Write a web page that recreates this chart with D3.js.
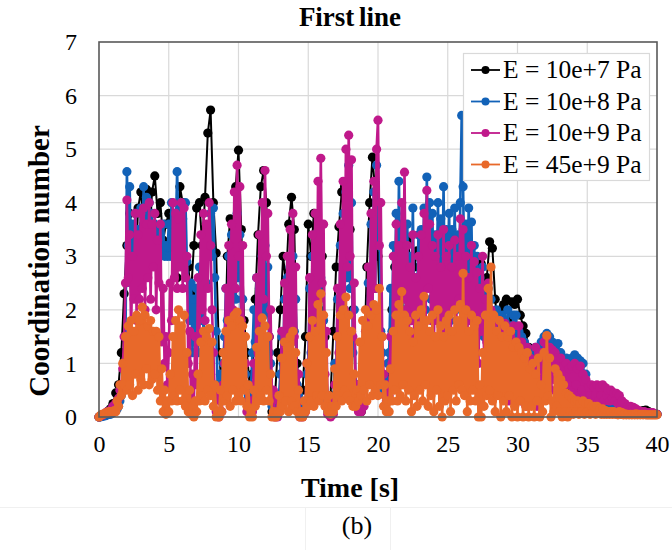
<!DOCTYPE html>
<html><head><meta charset="utf-8">
<script src="https://cdn.jsdelivr.net/npm/d3@7"></script>
<style>body{margin:0;background:#fff}svg{display:block}</style>
</head><body><svg id="c" width="672" height="550"></svg>
<script>
const xTicks = [0,5,10,15,20,25,30,35,40];
const yTicks = [0,1,2,3,4,5,6,7];
const seriesNames = ["E = 10e+7 Pa","E = 10e+8 Pa","E = 10e+9 Pa","E = 45e+9 Pa"];
const seriesColors = ["#000000","#1262b8","#c0198b","#e8692a"];
const seriesSteps = [0.2, 0.1, 0.1, 0.1]; // sampling interval in seconds

// E = 10e+7 Pa, every 0.2 s
const e7 = [
0,0.02,0.05,0.1,0.15, 0.25,0.45,0.6,1.2,2.3, 3.2,3.8,3.4,2.6,3.9, 4.2,3.6,4.25,3.2,4.2,
4.5,3.8,4.0,3.3,3.6, 3.8,3.1,3.5,2.6,4.3, 4.0,3.0,2.8,2.3,3.2, 3.9,4.0,3.2,4.1,5.3,
5.73,4.0,3.06,1.2,0.6, 0.9,3.0,3.7,2.4,4.3, 4.98,3.5,1.8,1.2,0.6, 0.8,2.2,3.4,4.3,4.6,
4.0,1.5,0.1,0.3,1.2, 2.0,3.0,2.5,3.6,4.1, 3.5,1.0,0.3,0.5,1.5, 3.6,3.0,3.8,3.0,2.0,
3.0,1.5,0.3,0.4,1.6, 2.8,3.55,4.2,4.3,4.3, 3.5,2.0,0.6,0.2,0.1, 1.0,2.8,4.0,4.85,4.2,
3.0,1.5,0.44,0.26,1.0, 2.0,2.8,3.2,2.5,3.0, 2.6,3.3,2.0,2.8,3.1, 2.4,3.2,3.5,2.7,3.0,
2.2,2.9,3.3,2.5,3.1, 2.7,2.0,3.0,2.4,2.8, 3.2,2.5,2.0,2.6,2.3, 2.1,2.4,2.86,2.3,2.6,
3.27,3.15,2.2,1.6,2.0, 2.1,2.2,1.8,2.15,2.1, 2.2,1.9,1.7,1.56,1.3, 1.1,1.0,0.9,1.2,1.0,
1.3,1.1,0.9,1.0,0.8, 0.7,0.6,0.7,0.5,0.5, 0.4,0.5,0.35,0.3,0.3, 0.3,0.25,0.2,0.2,0.15,
0.15,0.12,0.1,0.1,0.1, 0.08,0.08,0.05,0.05,0.05, 0.05,0.05,0.05,0.05,0.08, 0.12,0.13,0.1,0.08,0.05,
0.05];

// E = 10e+8 Pa, every 0.1 s
const e8 = [
0,0,0.01,0.02,0.02,0.03,0.04,0.05,0.05,0.06,
0.08,0.1,0.12,0.15,0.2,0.3,0.4,0.6,0.9,1.5,
4.58,3.2,4.3,2.5,3.6,2.8,3.8,3.0,3.5,2.6,
3.9,2.8,4.3,3.0,4.1,3.2,4.0,3.4,3.8,3.0,
3.6,3.1,3.5,3.0,3.4,3.1,3.6,3.0,3.2,3.0,
3.6,3.0,4.0,3.2,3.8,3.4,4.58,3.5,4.0,3.3,
3.7,3.0,4.0,2.9,2.4,1.8,2.5,1.2,2.2,1.4,
2.4,1.2,2.8,1.8,2.5,1.5,3.0,2.5,3.5,3.0,
3.8,3.0,3.9,2.6,1.6,0.6,0.5,0.8,0.6,1.0,
1.5,2.4,1.8,3.0,2.0,3.4,1.6,3.6,2.2,3.8,
2.6,3.4,1.5,2.2,0.6,0.8,0.3,0.4,0.3,0.6,
1.2,2.0,1.4,2.6,1.8,2.4,1.2,3.0,1.9,3.2,
2.0,2.8,1.2,1.0,0.2,0.3,0.1,0.15,0.1,0.4,
0.8,1.5,1.0,2.2,1.2,2.6,0.9,2.8,1.4,3.0,
1.6,2.2,0.6,0.4,0.1,0.2,0.1,0.15,0.2,0.8,
0.8,2.4,1.2,3.0,1.5,3.4,1.0,3.2,1.6,2.6,
1.2,1.8,0.3,0.4,0.1,0.15,0.1,0.2,0.3,1.0,
0.6,2.2,1.0,3.2,1.5,3.8,2.0,4.2,2.6,4.7,
2.4,4.0,1.2,2.0,0.4,0.6,0.2,0.3,0.2,0.5,
0.6,1.4,1.0,2.5,1.4,3.6,2.0,4.2,2.4,4.7,
3.2,4.0,1.6,1.2,0.5,0.7,0.5,1.0,1.2,2.4,
1.6,3.2,2.0,3.8,1.8,4.4,2.6,3.6,2.0,3.4,
2.2,3.6,1.8,3.0,2.4,3.9,1.8,2.6,2.2,3.4,
1.9,3.5,2.4,3.9,2.0,4.48,2.8,4.0,2.2,3.8,
2.0,3.4,2.6,4.0,1.8,3.7,2.4,4.3,2.0,3.5,
2.4,3.8,1.8,3.5,2.6,3.9,2.0,3.4,2.4,4.0,
5.63,4.3,2.4,3.6,2.0,3.9,2.6,3.64,1.8,3.2,
2.2,3.0,1.6,2.6,2.0,2.8,1.5,2.4,1.8,2.4,
1.5,2.2,1.2,1.9,1.4,2.0,1.0,1.8,1.2,1.9,
1.0,1.8,1.2,2.0,0.9,1.7,1.1,1.9,1.0,1.9,
1.2,1.6,0.8,1.5,1.0,1.4,0.7,1.3,0.9,1.2,
0.6,1.2,0.9,1.3,0.7,1.1,0.8,1.4,0.9,1.5,
1.1,1.56,1.2,1.5,1.0,1.4,1.1,1.3,1.0,1.37,
0.9,1.2,0.8,1.0,0.9,1.1,0.8,1.05,0.9,1.1,
0.8,1.16,0.9,1.1,0.8,1.05,0.7,1.0,0.6,0.8,
0.5,0.6,0.4,0.5,0.4,0.5,0.35,0.45,0.3,0.4,
0.3,0.4,0.3,0.35,0.25,0.3,0.25,0.3,0.2,0.25,
0.2,0.25,0.15,0.2,0.15,0.18,0.12,0.15,0.1,0.15,
0.1,0.12,0.08,0.1,0.08,0.1,0.06,0.08,0.06,0.08,
0.05,0.06,0.05,0.05,0.05,0.05,0.05,0.05,0.05,0.05,
0.05];

// E = 10e+9 Pa, every 0.1 s
const e9 = [
0,0.02,0.03,0.05,0.06,0.08,0.1,0.1,0.12,0.15,
0.2,0.22,0.25,0.3,0.35,0.5,0.6,0.9,1.5,2.5,
4.05,2.6,3.4,1.6,3.0,2.2,3.8,1.8,3.4,2.2,
3.8,2.4,3.9,2.0,3.6,2.6,4.0,2.2,3.6,2.8,
3.8,2.0,3.3,2.5,3.6,1.4,2.4,1.0,1.5,0.6,
1.2,2.5,1.8,4.0,2.6,3.8,2.4,3.7,2.8,4.0,
2.4,3.9,2.6,3.0,1.0,1.6,0.3,0.8,0.25,1.5,
0.6,2.6,1.5,3.4,2.0,3.8,1.8,3.6,2.4,4.0,
3.2,2.0,1.2,0.4,0.1,0.05,0.0,0.3,0.1,0.6,
1.0,2.4,0.8,3.2,1.5,3.6,2.0,4.2,2.4,4.7,
3.0,4.3,1.8,3.2,0.6,1.0,0.1,0.2,0.05,0.3,
0.1,1.0,0.5,2.6,1.2,3.4,1.8,4.0,2.2,4.6,
3.0,3.8,1.5,2.0,0.3,0.5,0.0,0.1,0.0,0.3,
0.2,1.6,0.4,2.5,0.8,3.0,1.2,3.5,1.4,3.8,
1.5,2.8,0.3,0.8,0.0,0.1,0.0,0.05,0.1,1.0,
0.3,2.6,0.8,3.4,1.4,3.8,1.6,4.4,2.2,4.83,
2.5,3.6,0.8,1.6,0.05,0.3,0.0,0.1,0.05,0.6,
0.3,2.4,1.2,3.6,1.6,4.4,2.0,5.0,2.8,5.26,
3.0,4.8,1.5,2.5,0.3,0.6,0.1,0.2,0.1,0.3,
0.2,1.6,0.8,2.8,1.4,3.8,1.8,4.4,2.4,5.0,
5.54,3.2,4.0,1.5,0.8,0.4,0.3,0.6,0.4,1.5,
1.0,3.0,1.6,3.6,2.0,3.2,1.4,4.0,2.2,4.57,
2.0,3.2,1.2,2.8,1.8,3.4,1.5,2.6,1.0,3.0,
1.6,3.4,2.0,3.8,1.4,4.23,2.4,3.6,1.8,3.2,
1.2,3.0,1.8,3.4,1.0,2.8,1.6,3.5,1.4,3.0,
1.8,3.2,1.2,2.8,2.0,3.3,1.5,3.0,2.2,3.7,
1.6,3.5,2.0,3.0,1.4,2.6,1.8,3.2,1.2,2.9,
1.5,2.7,1.0,2.4,1.6,3.0,1.2,2.2,1.4,2.5,
0.8,2.0,1.0,1.75,0.5,1.6,0.9,1.8,0.6,1.7,
0.4,1.75,0.8,1.6,0.3,1.5,0.7,1.7,0.5,1.4,
0.6,1.7,0.3,1.4,0.5,1.2,0.2,1.3,0.6,1.1,
0.3,1.0,0.5,1.3,0.2,0.9,0.4,1.2,0.6,1.4,
0.8,1.5,0.6,1.3,0.5,1.25,0.7,1.2,0.5,1.1,
0.6,1.1,0.5,0.95,0.4,1.0,0.6,0.9,0.4,0.95,
0.5,1.0,0.6,0.9,0.4,0.95,0.5,0.8,0.4,0.7,
0.3,0.56,0.4,0.6,0.3,0.55,0.4,0.6,0.3,0.55,
0.4,0.6,0.3,0.55,0.4,0.5,0.3,0.5,0.35,0.45,
0.3,0.44,0.25,0.4,0.2,0.3,0.15,0.25,0.15,0.2,
0.1,0.2,0.1,0.18,0.1,0.15,0.08,0.12,0.08,0.1,
0.06,0.1,0.06,0.08,0.06,0.08,0.05,0.08,0.05,0.06,
0.05];

// E = 45e+9 Pa, every 0.1 s
const e45 = [
0,0.03,0.05,0.05,0.06,0.08,0.08,0.1,0.1,0.1,
0.1,0.12,0.1,0.3,0.2,0.6,0.4,1.0,0.6,1.5,
0.5,1.7,0.6,1.8,0.4,1.6,0.8,1.9,0.5,1.8,
0.7,2.05,0.6,1.9,0.9,1.7,0.6,1.8,0.7,1.6,
0.8,1.6,0.5,1.5,0.3,0.9,0.1,0.5,0.05,0.3,
0.1,0.8,0.3,1.5,0.4,1.8,0.3,2.0,0.5,1.7,
0.3,1.9,0.2,1.2,0.1,0.5,0.05,0.2,0.0,0.3,
0.1,0.8,0.3,1.4,0.4,1.6,0.3,1.5,0.5,1.65,
0.4,1.4,0.2,0.6,0.0,0.1,0.0,0.5,0.1,1.2,
0.3,1.6,0.4,1.8,0.2,1.7,0.5,1.9,0.3,1.96,
0.4,1.8,0.3,1.7,0.5,1.5,0.2,0.6,0.0,0.1,
0.0,0.5,0.2,1.3,0.3,1.6,0.4,1.85,0.3,1.7,
0.5,1.5,0.3,0.8,0.0,0.1,0.0,0.0,0.1,0.4,
0.1,1.1,0.2,1.4,0.3,1.3,0.1,1.5,0.3,1.6,
0.2,1.2,0.1,0.5,0.0,0.1,0.0,0.3,0.1,1.0,
0.2,1.5,0.3,1.8,0.2,1.6,0.4,2.1,0.3,2.3,
0.4,1.9,0.2,1.2,0.1,0.4,0.05,0.2,0.1,0.9,
0.2,1.5,0.4,1.9,0.3,2.0,0.5,2.24,0.4,1.9,
0.3,1.6,0.2,0.8,0.2,0.5,0.3,1.4,0.4,1.8,
0.5,2.0,0.3,1.7,0.6,1.9,0.4,2.1,0.5,2.0,
0.4,2.4,0.6,1.5,0.2,0.6,0.1,0.3,0.1,0.9,
0.3,1.6,0.5,1.9,0.3,2.1,0.4,2.34,0.6,1.9,
0.3,1.8,0.5,1.6,0.1,1.4,0.4,1.9,0.2,1.7,
0.5,2.0,0.3,2.25,0.6,1.8,0.2,1.6,0.4,1.9,
0.1,1.5,0.5,2.0,0.2,1.7,0.0,1.5,0.3,1.8,
0.4,1.9,0.1,1.6,0.5,2.0,0.3,1.8,0.6,2.1,
0.5,2.68,0.4,2.0,0.1,1.6,0.3,1.9,0.5,1.7,
0.3,1.8,0.0,0.6,0.0,1.2,0.2,1.9,0.4,2.4,
0.5,2.8,0.3,1.9,0.1,1.6,0.4,1.8,0.0,1.5,
0.3,1.7,0.1,1.5,0.4,1.6,0.0,1.3,0.2,1.4,
0.0,1.3,0.3,1.2,0.0,1.1,0.2,1.2,0.0,0.9,
0.2,1.0,0.0,0.8,0.3,1.1,0.0,0.6,0.1,1.2,
0.3,1.52,0.4,1.1,0.0,0.3,0.1,0.9,0.2,0.8,
0.1,0.7,0.0,0.6,0.1,0.44,0.0,0.4,0.1,0.35,
0.05,0.3,0.1,0.3,0.05,0.25,0.1,0.3,0.05,0.25,
0.1,0.25,0.05,0.2,0.1,0.2,0.05,0.2,0.1,0.15,
0.05,0.15,0.05,0.12,0.05,0.1,0.05,0.1,0.05,0.1,
0.05,0.08,0.04,0.1,0.05,0.08,0.04,0.06,0.04,0.05,
0.04,0.05,0.04,0.05,0.04,0.06,0.04,0.05,0.04,0.05,
0.04,0.05,0.04,0.04,0.04,0.04,0.04,0.04,0.04,0.04,
0.04];

const seriesValues = [e7, e8, e9, e45];

const SERIF = "'Liberation Serif','Times New Roman',serif";
const svg = d3.select("#c");
const L = 99, R = 657, T = 42, B = 417;
const x = d3.scaleLinear().domain([0,40]).range([L,R]);
const y = d3.scaleLinear().domain([0,7]).range([B,T]);

// faint caption frame lines
svg.append("line").attr("x1",0).attr("x2",672).attr("y1",507.5).attr("y2",507.5).attr("stroke","#f0f0f0");
svg.append("line").attr("x1",305.5).attr("x2",305.5).attr("y1",507).attr("y2",550).attr("stroke","#f0f0f0");
svg.append("line").attr("x1",390.5).attr("x2",390.5).attr("y1",507).attr("y2",550).attr("stroke","#f0f0f0");

// grid
const g = svg.append("g");
g.selectAll(".gx").data(xTicks.slice(1,-1)).join("line")
  .attr("x1",d=>x(d)).attr("x2",d=>x(d)).attr("y1",T).attr("y2",B)
  .attr("stroke","#d9d9d9").attr("stroke-width",1.2);
g.selectAll(".gy").data(yTicks.slice(1,-1)).join("line")
  .attr("x1",L).attr("x2",R).attr("y1",d=>y(d)).attr("y2",d=>y(d))
  .attr("stroke","#d9d9d9").attr("stroke-width",1.2);

// axes
const xAxis = svg.append("g").attr("transform",`translate(0,${B})`)
  .call(d3.axisBottom(x).tickValues(xTicks).tickFormat(d3.format("d")).tickSize(0).tickPadding(18));
const yAxis = svg.append("g").attr("transform",`translate(${L},0)`)
  .call(d3.axisLeft(y).tickValues(yTicks).tickFormat(d3.format("d")).tickSize(0).tickPadding(22));
[xAxis,yAxis].forEach(a=>{
  a.attr("font-family",null).attr("font-size",null);
  a.select(".domain").remove();
  a.selectAll("text").style("font-family",SERIF).style("font-size","24px").attr("fill","#000");
});

// series
const line = d3.line().x(d=>x(d[0])).y(d=>y(d[1]));
const plot = svg.append("g");
seriesValues.forEach((vals,k)=>{
  const pts = vals.map((v,i)=>[i*seriesSteps[k], v]);
  const sg = plot.append("g");
  sg.append("path").datum(pts).attr("d",line).attr("fill","none")
    .attr("stroke",seriesColors[k]).attr("stroke-width",k===0?2:2.6).attr("stroke-linejoin","round");
  sg.selectAll("circle").data(pts).join("circle")
    .attr("cx",d=>x(d[0])).attr("cy",d=>y(d[1])).attr("r",4.6)
    .attr("fill",seriesColors[k]);
});

// frame
svg.append("rect").attr("x",L).attr("y",T).attr("width",R-L).attr("height",B-T)
  .attr("fill","none").attr("stroke","#595959").attr("stroke-width",1.6);

// legend
const lg = svg.append("g");
lg.append("rect").attr("x",463.5).attr("y",53.5).attr("width",186).attr("height",127)
  .attr("fill","#fff").attr("stroke","#d9d9d9").attr("stroke-width",1.2);
seriesNames.forEach((n,k)=>{
  const yy = 70 + k*31.5;
  lg.append("line").attr("x1",471).attr("x2",500).attr("y1",yy).attr("y2",yy)
    .attr("stroke",seriesColors[k]).attr("stroke-width",1.8);
  lg.append("circle").attr("cx",485.5).attr("cy",yy).attr("r",4).attr("fill",seriesColors[k]);
  lg.append("text").attr("x",503).attr("y",yy+8).style("font-family",SERIF).style("font-size","25.5px").text(n);
});

// titles
svg.append("text").attr("x",350).attr("y",26).attr("text-anchor","middle")
  .style("font-family",SERIF).style("font-size","27px").style("font-weight","bold").style("word-spacing","-2px").text("First line");
svg.append("text").attr("x",350).attr("y",497).attr("text-anchor","middle")
  .style("font-family",SERIF).style("font-size","28px").style("font-weight","bold").text("Time [s]");
svg.append("text").attr("transform","translate(49,261) rotate(-90)").attr("text-anchor","middle")
  .style("font-family",SERIF).style("font-size","29px").style("font-weight","bold").text("Coordination number");
svg.append("text").attr("x",357).attr("y",534).attr("text-anchor","middle")
  .style("font-family",SERIF).style("font-size","26px").text("(b)");
</script></body></html>
